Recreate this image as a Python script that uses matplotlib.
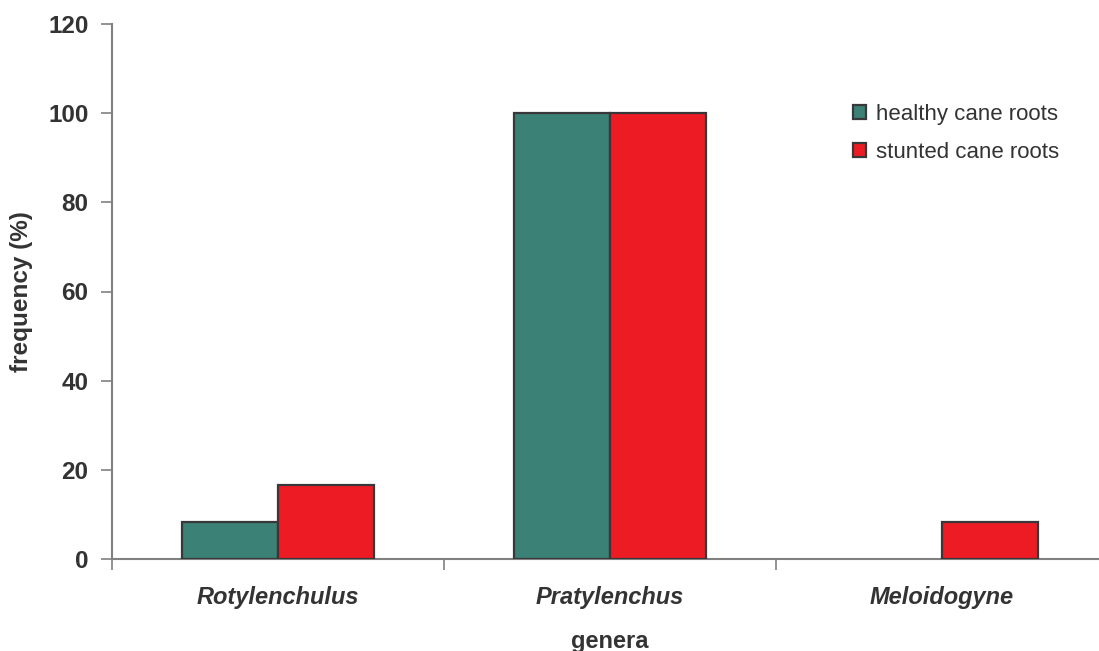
import matplotlib
matplotlib.use("Agg")
import matplotlib.pyplot as plt
import numpy as np
from matplotlib.patches import Patch

categories = ["Rotylenchulus", "Pratylenchus", "Meloidogyne"]
series_names = ["healthy cane roots", "stunted cane roots"]
healthy = [8.3, 100.0, 0.0]
stunted = [16.7, 100.0, 8.3]
yticks = [0, 20, 40, 60, 80, 100, 120]

colors = ["#3b8175", "#ed1c24"]
edge = "#38383a"
txt = "#333333"
spine_c = "#808080"

plt.rcParams["font.family"] = ["Liberation Sans", "DejaVu Sans"]

fig = plt.figure(figsize=(10.99, 6.51), dpi=100)
W, H = 1099, 651
left, right, top, bottom = 112, 1108, 23.7, 559.3
ax = fig.add_axes([left / W, 1 - bottom / H, (right - left) / W, (bottom - top) / H])

x = np.arange(len(categories))
bw = 0.289
for vals, off, col in [(healthy, -bw / 2, colors[0]), (stunted, bw / 2, colors[1])]:
    lws = [1.6 if v > 0 else 0 for v in vals]
    ax.bar(x + off, vals, bw, color=col, edgecolor=edge, linewidth=lws, zorder=3)

ax.set_xlim(-0.5, 2.5)
ax.set_ylim(0, 120)
ax.set_yticks(yticks)
ax.set_yticklabels([str(v) for v in yticks], fontsize=17.5, fontweight="bold", color=txt)
ax.set_xticks(x)
ax.set_xticklabels(categories, fontsize=17, fontweight="bold", fontstyle="italic", color=txt)
ax.set_xticks([-0.5, 0.5, 1.5, 2.5], minor=True)
ax.tick_params(axis="x", which="major", length=0, pad=19)
ax.tick_params(axis="x", which="minor", length=8, width=1.2, color=spine_c, direction="out")
ax.tick_params(axis="y", which="major", length=8, width=1.2, color=spine_c, direction="out", pad=9)

for s in ["top", "right"]:
    ax.spines[s].set_visible(False)
for s in ["left", "bottom"]:
    ax.spines[s].set_color(spine_c)
    ax.spines[s].set_linewidth(1.5)

ax.set_ylabel("frequency (%)", fontsize=17.5, fontweight="bold", color=txt, labelpad=11)
ax.set_xlabel("genera", fontsize=17, fontweight="bold", color=txt, labelpad=15)

handles = [Patch(facecolor=colors[i], edgecolor=edge, linewidth=1.6, label=series_names[i]) for i in range(2)]
leg = fig.legend(handles=handles, loc="upper left", bbox_to_anchor=(853 / W, 1 - 104 / H),
                 frameon=False, fontsize=16, handlelength=0.6, handleheight=0.6,
                 handletextpad=0.45, labelspacing=0.75, borderaxespad=0, borderpad=0)
for t in leg.get_texts():
    t.set_color(txt)

fig.savefig("out.png", dpi=100)
